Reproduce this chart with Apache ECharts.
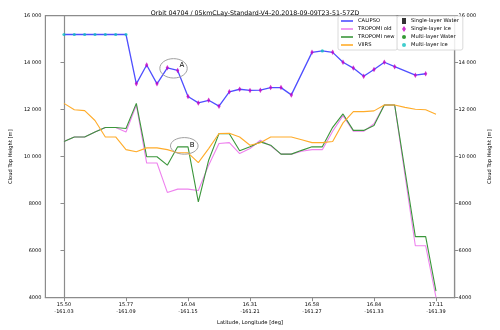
<!DOCTYPE html>
<html>
<head>
<meta charset="utf-8">
<script src="https://cdn.jsdelivr.net/npm/echarts@6/dist/echarts.min.js"></script>
<style>
html, body { margin: 0; padding: 0; background: #fff; }
#chart { width: 500px; height: 330px; }
</style>
</head>
<body>
<div id="chart"></div>
<script>
// axis labels
var latLabels = ['15.50', '15.77', '16.04', '16.31', '16.58', '16.84', '17.11'];
var lonLabels = ['-161.03', '-161.09', '-161.15', '-161.21', '-161.27', '-161.33', '-161.39'];
var tickIdx = [0, 6, 12, 18, 24, 30, 36];

// CALIPSO cloud top (profile index -> height), phase per point
var calipsoIdx = [0, 1, 2, 3, 4, 5, 6, 7, 8, 9, 10, 11, 12, 13, 14, 15, 16, 17, 18, 19, 20, 21, 22, 24, 25, 26, 27, 28, 29, 30, 31, 32, 34, 35];
var calipsoTop = [15200, 15200, 15200, 15200, 15200, 15200, 15200, 13100, 13900, 13100, 13780, 13670, 12560, 12290, 12400, 12150, 12760, 12870, 12820, 12830, 12940, 12940, 12630, 14440, 14500, 14440, 14020, 13770, 13420, 13710, 14020, 13830, 13470, 13530];
var calipsoPhase = ['M', 'M', 'M', 'M', 'M', 'M', 'M', 'S', 'S', 'S', 'S', 'S', 'S', 'S', 'S', 'S', 'S', 'S', 'S', 'S', 'S', 'S', 'S', 'S', 'M', 'S', 'S', 'S', 'S', 'S', 'S', 'S', 'S', 'S'];

// TROPOMI / VIIRS, index 0..36 (null = no value)
var tropOld = [10650, 10840, 10840, 11050, 11240, 11240, 11050, 12200, 9730, 9730, 8480, 8620, 8620, 8565, 9640, 10560, 10600, 10135, 10350, 10700, 10460, 10110, 10110, 10230, 10300, 10300, 11080, 11750, 11080, 11080, 11400, 12200, 12200, null, 6210, 6210, 4010];
var tropNew = [10650, 10840, 10840, 11050, 11240, 11240, 11200, 12270, 10000, 10000, 9640, 10420, 10420, 8080, 9850, 10980, 10980, 10250, 10420, 10630, 10490, 10110, 10110, 10270, 10420, 10420, 11250, 11820, 11120, 11120, 11330, 12200, 12200, null, 6600, 6600, 4280];
var viirs = [12270, 12000, 11960, 11540, 10840, 10840, 10300, 10210, 10375, 10375, 10300, 10165, 10165, 9745, 10345, 10990, 11000, 10840, 10485, 10590, 10840, 10840, 10840, 10720, 10600, 10600, 10650, 11440, 11920, 11920, 11950, 12200, 12200, 12100, 12020, 12000, 11810];

var FONT = 'DejaVu Sans';
var AXC = '#8c8c8c';

function pairs(arr) {
	var out = [];
	arr.forEach(function(v, i){
		if (v !== null) out.push([i, v]);
	});
	return out;
}

var calipsoLine = calipsoIdx.map(function(x, k){ return [x, calipsoTop[k]]; });
var singleIce = [];
var multiIce = [];
calipsoIdx.forEach(function(x, k){
	if (calipsoPhase[k] === 'M') multiIce.push([x, calipsoTop[k]]);
	else singleIce.push([x, calipsoTop[k]]);
});

function yFmt(v){
	return v >= 10000 ? String(v).slice(0, 2) + ' ' + String(v).slice(2) : String(v);
}

var chart = echarts.init(document.getElementById('chart'));

var linePath = 'path://M0,0H12V1.6H0Z';

var option = {
	animation: false,
	backgroundColor: '#fff',
	title: {
		text: 'Orbit 04704 / 05kmCLay-Standard-V4-20.2018-09-09T23-51-57ZD',
		left: 250,
		textAlign: 'center',
		top: 5,
		textStyle: { fontFamily: FONT, fontSize: 6.3, fontWeight: 'normal', color: '#000' }
	},
	grid: {
		left: 34.5, right: 34.5, top: 15.7, bottom: 29.3,
		show: true, borderColor: AXC, borderWidth: 1.2, backgroundColor: 'transparent'
	},
	legend: [{
		data: [
			{ name: 'CALIPSO', icon: linePath },
			{ name: 'TROPOMI old', icon: linePath },
			{ name: 'TROPOMI new', icon: linePath },
			{ name: 'VIIRS', icon: linePath }
		],
		orient: 'vertical', left: 338, top: 16,
		itemWidth: 12, itemHeight: 6, itemGap: 2,
		padding: [2, 3, 2, 3],
		borderColor: '#d0d0d0', borderWidth: 0.8, borderRadius: 2,
		backgroundColor: 'rgba(255,255,255,0.85)',
		selectedMode: false,
		textStyle: { fontFamily: FONT, fontSize: 5.2, lineHeight: 6, color: '#000' }
	}, {
		data: [
			{ name: 'Single-layer Water', icon: 'rect' },
			{ name: 'Single-layer Ice', icon: 'diamond' },
			{ name: 'Multi-layer Water', icon: 'circle' },
			{ name: 'Multi-layer Ice', icon: 'circle' }
		],
		orient: 'vertical', left: 397, top: 16,
		itemWidth: 4, itemHeight: 6, itemGap: 2,
		padding: [2, 4, 2, 5],
		borderColor: '#d0d0d0', borderWidth: 0.8, borderRadius: 2,
		backgroundColor: 'rgba(255,255,255,0.85)',
		selectedMode: false,
		textStyle: { fontFamily: FONT, fontSize: 5.2, lineHeight: 6, color: '#000' }
	}],
	xAxis: {
		type: 'value',
		min: -1.8, max: 37.8,
		name: 'Latitude, Longitude [deg]',
		nameLocation: 'middle',
		nameGap: 17,
		nameTextStyle: { fontFamily: FONT, fontSize: 5.2, color: '#000' },
		axisLine: { lineStyle: { color: AXC, width: 1.2 } },
		axisTick: { customValues: tickIdx, length: 3.5, lineStyle: { color: AXC } },
		axisLabel: {
			customValues: tickIdx,
			margin: 4,
			fontFamily: FONT, fontSize: 5, lineHeight: 6.7, color: '#000',
			formatter: function(v){
				var k = tickIdx.indexOf(Math.round(v));
				return k < 0 ? '' : latLabels[k] + '\n' + lonLabels[k];
			}
		},
		splitLine: { show: false }
	},
	yAxis: [{
		type: 'value',
		min: 4000, max: 16000, interval: 2000,
		position: 'left',
		name: 'Cloud Top Height [m]',
		nameLocation: 'middle',
		nameGap: 21,
		nameTextStyle: { fontFamily: FONT, fontSize: 5.2, color: '#000' },
		axisLine: { show: true, lineStyle: { color: AXC, width: 1.2 } },
		axisTick: { show: true, length: 3.5, lineStyle: { color: AXC } },
		axisLabel: { margin: 4, fontFamily: FONT, fontSize: 5, color: '#000', formatter: yFmt },
		splitLine: { show: false }
	}, {
		type: 'value',
		min: 4000, max: 16000, interval: 2000,
		position: 'right',
		name: 'Cloud Top Height [m]',
		nameLocation: 'middle',
		nameGap: 21,
		nameTextStyle: { fontFamily: FONT, fontSize: 5.2, color: '#000' },
		axisLine: { show: true, lineStyle: { color: AXC, width: 1.2 } },
		axisTick: { show: true, length: 3.5, lineStyle: { color: AXC } },
		axisLabel: { margin: 4, fontFamily: FONT, fontSize: 5, color: '#000', formatter: yFmt },
		splitLine: { show: false }
	}],
	series: [
		{
			name: 'CALIPSO', type: 'line', data: calipsoLine,
			showSymbol: false, color: '#4f4fff',
			lineStyle: { width: 1.3, color: '#4f4fff' }, z: 2
		},
		{
			name: 'TROPOMI old', type: 'line', data: pairs(tropOld),
			showSymbol: false, color: '#ee82ee',
			lineStyle: { width: 1.1, color: '#ee82ee' }, z: 3
		},
		{
			name: 'TROPOMI new', type: 'line', data: pairs(tropNew),
			showSymbol: false, color: '#3b963b',
			lineStyle: { width: 1.1, color: '#3b963b' }, z: 4
		},
		{
			name: 'VIIRS', type: 'line', data: pairs(viirs),
			showSymbol: false, color: '#ffac2a',
			lineStyle: { width: 1.1, color: '#ffac2a' }, z: 5
		},
		{
			name: 'Single-layer Water', type: 'scatter', data: [],
			symbol: 'rect', symbolSize: 4, color: '#000', z: 6
		},
		{
			name: 'Single-layer Ice', type: 'scatter', data: singleIce,
			symbol: 'diamond', symbolSize: [3.2, 5.5], color: '#c400c4', z: 6
		},
		{
			name: 'Multi-layer Water', type: 'scatter', data: [],
			symbol: 'circle', symbolSize: 4, color: '#008000', z: 6
		},
		{
			name: 'Multi-layer Ice', type: 'scatter', data: multiIce,
			symbol: 'circle', symbolSize: 3.2, color: '#10c0c0', z: 6
		}
	]
};

chart.setOption(option);

// annotation ellipses A and B, placed in data coordinates
var notes = [
	{ label: 'A', c: [10.6, 13760], t: [11.4, 13880], rx: 13.7, ry: 9.7 },
	{ label: 'B', c: [11.64, 10460], t: [12.39, 10485], rx: 13.8, ry: 8.3 }
];
var gr = [];
notes.forEach(function(n){
	var c = chart.convertToPixel({ xAxisIndex: 0, yAxisIndex: 0 }, n.c);
	var t = chart.convertToPixel({ xAxisIndex: 0, yAxisIndex: 0 }, n.t);
	gr.push({
		type: 'ellipse', z: 20,
		shape: { cx: c[0], cy: c[1], rx: n.rx, ry: n.ry },
		style: { fill: null, stroke: '#a0a0a0', lineWidth: 1 }
	});
	gr.push({
		type: 'text', z: 21,
		x: t[0], y: t[1],
		style: { text: n.label, fill: '#000', font: '7px "DejaVu Sans"', align: 'center', verticalAlign: 'middle' }
	});
});
chart.setOption({ graphic: gr });
</script>
</body>
</html>
